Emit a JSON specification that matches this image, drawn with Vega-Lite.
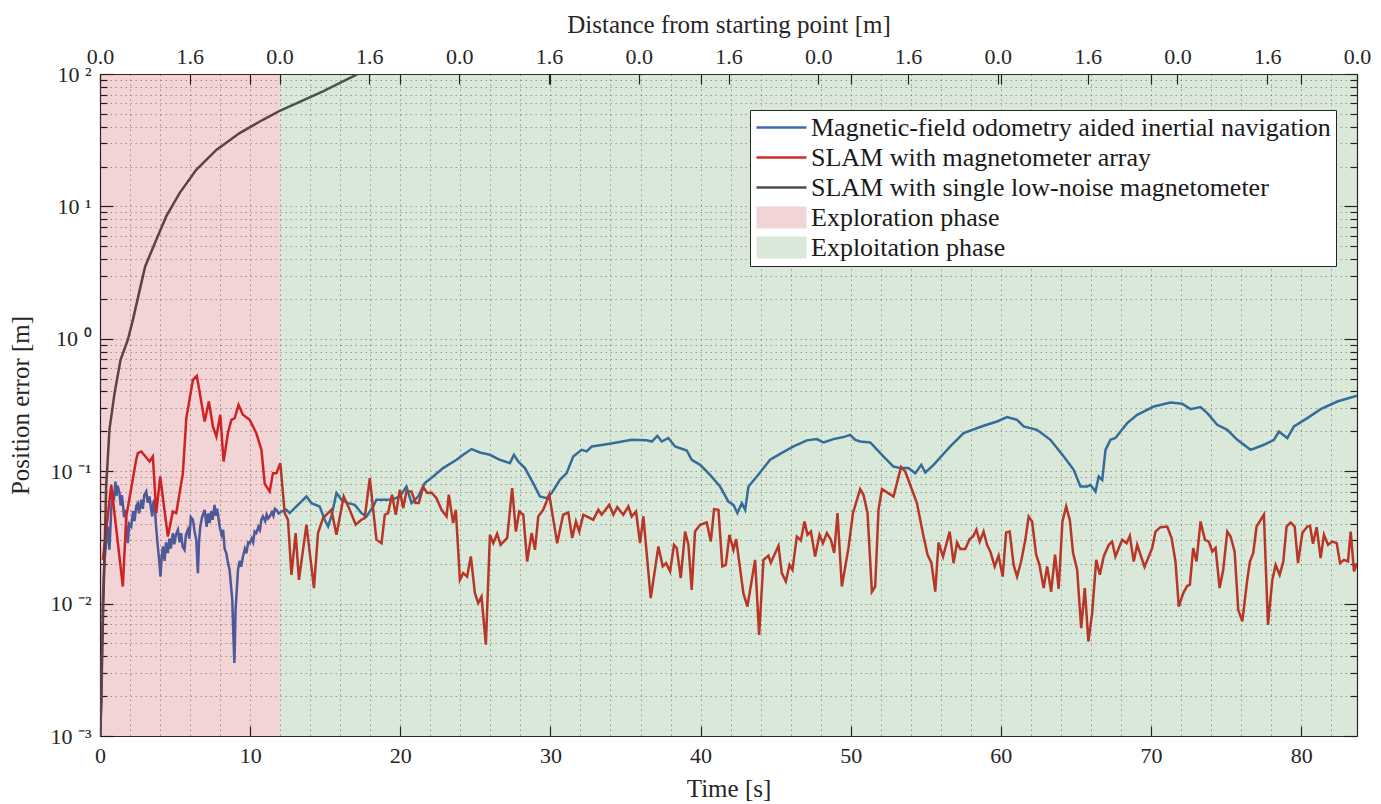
{
  "$schema": "https://vega.github.io/schema/vega-lite/v6.json",
  "width": 1257,
  "height": 662,
  "autosize": {"type": "none"},
  "padding": {"left": 100, "top": 74, "right": 24, "bottom": 68},
  "background": "white",
  "config": {
    "font": "Liberation Serif",
    "view": {"stroke": null},
    "axis": {
      "labelFont": "Liberation Serif",
      "titleFont": "Liberation Serif",
      "labelFontSize": 22,
      "titleFontSize": 25,
      "titleFontWeight": "normal",
      "labelColor": "#262626",
      "titleColor": "#262626",
      "domainColor": "#262626",
      "tickColor": "#1a1a1a",
      "domainWidth": 1.2,
      "tickWidth": 1.2,
      "labelFlush": false,
      "labelOverlap": false
    }
  },
  "datasets": {
    "lines": [
      {"s":"A","t":0,"v":0.001},{"s":"A","t":0.1,"v":0.00188},{"s":"A","t":0.19,"v":0.0107},{"s":"A","t":0.3,"v":0.0214},{"s":"A","t":0.52,"v":0.0382},{"s":"A","t":0.63,"v":0.0255},{"s":"A","t":0.75,"v":0.0511},{"s":"A","t":0.85,"v":0.07},{"s":"A","t":0.92,"v":0.06},{"s":"A","t":1.03,"v":0.0836},{"s":"A","t":1.1,"v":0.065},{"s":"A","t":1.17,"v":0.078},{"s":"A","t":1.3,"v":0.0684},{"s":"A","t":1.38,"v":0.055},{"s":"A","t":1.45,"v":0.066},{"s":"A","t":1.52,"v":0.0574},{"s":"A","t":1.6,"v":0.045},{"s":"A","t":1.7,"v":0.0511},{"s":"A","t":1.78,"v":0.035},{"s":"A","t":1.85,"v":0.0286},{"s":"A","t":1.95,"v":0.04},{"s":"A","t":2.08,"v":0.0382},{"s":"A","t":2.2,"v":0.05},{"s":"A","t":2.3,"v":0.042},{"s":"A","t":2.42,"v":0.055},{"s":"A","t":2.52,"v":0.0574},{"s":"A","t":2.6,"v":0.048},{"s":"A","t":2.75,"v":0.0608},{"s":"A","t":2.85,"v":0.052},{"s":"A","t":2.95,"v":0.066},{"s":"A","t":3.08,"v":0.0703},{"s":"A","t":3.18,"v":0.058},{"s":"A","t":3.3,"v":0.0644},{"s":"A","t":3.4,"v":0.052},{"s":"A","t":3.48,"v":0.0455},{"s":"A","t":3.55,"v":0.058},{"s":"A","t":3.63,"v":0.0608},{"s":"A","t":3.72,"v":0.04},{"s":"A","t":3.85,"v":0.027},{"s":"A","t":3.93,"v":0.022},{"s":"A","t":4.03,"v":0.016},{"s":"A","t":4.1,"v":0.022},{"s":"A","t":4.19,"v":0.027},{"s":"A","t":4.3,"v":0.021},{"s":"A","t":4.4,"v":0.029},{"s":"A","t":4.52,"v":0.0241},{"s":"A","t":4.62,"v":0.031},{"s":"A","t":4.72,"v":0.026},{"s":"A","t":4.85,"v":0.0341},{"s":"A","t":4.95,"v":0.028},{"s":"A","t":5.05,"v":0.033},{"s":"A","t":5.19,"v":0.0361},{"s":"A","t":5.3,"v":0.029},{"s":"A","t":5.4,"v":0.034},{"s":"A","t":5.5,"v":0.027},{"s":"A","t":5.63,"v":0.0255},{"s":"A","t":5.72,"v":0.033},{"s":"A","t":5.85,"v":0.0361},{"s":"A","t":5.95,"v":0.031},{"s":"A","t":6.05,"v":0.045},{"s":"A","t":6.19,"v":0.043},{"s":"A","t":6.3,"v":0.035},{"s":"A","t":6.41,"v":0.0304},{"s":"A","t":6.52,"v":0.017},{"s":"A","t":6.6,"v":0.03},{"s":"A","t":6.68,"v":0.0382},{"s":"A","t":6.8,"v":0.045},{"s":"A","t":6.97,"v":0.0511},{"s":"A","t":7.1,"v":0.038},{"s":"A","t":7.2,"v":0.048},{"s":"A","t":7.3,"v":0.0406},{"s":"A","t":7.4,"v":0.05},{"s":"A","t":7.5,"v":0.043},{"s":"A","t":7.63,"v":0.0557},{"s":"A","t":7.72,"v":0.046},{"s":"A","t":7.8,"v":0.052},{"s":"A","t":7.97,"v":0.0382},{"s":"A","t":8.1,"v":0.033},{"s":"A","t":8.2,"v":0.036},{"s":"A","t":8.3,"v":0.026},{"s":"A","t":8.41,"v":0.0241},{"s":"A","t":8.5,"v":0.021},{"s":"A","t":8.63,"v":0.018},{"s":"A","t":8.81,"v":0.0107},{"s":"A","t":8.9,"v":0.00503},{"s":"A","t":8.95,"v":0.00356},{"s":"A","t":9.03,"v":0.00898},{"s":"A","t":9.19,"v":0.018},{"s":"A","t":9.3,"v":0.021},{"s":"A","t":9.4,"v":0.019},{"s":"A","t":9.52,"v":0.0227},{"s":"A","t":9.65,"v":0.026},{"s":"A","t":9.75,"v":0.024},{"s":"A","t":9.87,"v":0.029},{"s":"A","t":9.97,"v":0.0286},{"s":"A","t":10.1,"v":0.031},{"s":"A","t":10.2,"v":0.029},{"s":"A","t":10.3,"v":0.035},{"s":"A","t":10.41,"v":0.0341},{"s":"A","t":10.55,"v":0.038},{"s":"A","t":10.65,"v":0.036},{"s":"A","t":10.75,"v":0.043},{"s":"A","t":10.85,"v":0.0455},{"s":"A","t":11,"v":0.042},{"s":"A","t":11.1,"v":0.047},{"s":"A","t":11.2,"v":0.044},{"s":"A","t":11.3,"v":0.0455},{"s":"A","t":11.45,"v":0.049},{"s":"A","t":11.55,"v":0.046},{"s":"A","t":11.65,"v":0.052},{"s":"A","t":11.75,"v":0.0511},{"s":"A","t":11.9,"v":0.048},{"s":"A","t":12.08,"v":0.0496},{"s":"A","t":12.41,"v":0.0511},
      {"s":"A","t":12.63,"v":0.0483},{"s":"A","t":12.85,"v":0.0511},{"s":"A","t":13.75,"v":0.0644},{"s":"A","t":14.08,"v":0.0574},{"s":"A","t":14.63,"v":0.0541},{"s":"A","t":14.97,"v":0.043},{"s":"A","t":15.19,"v":0.0382},{"s":"A","t":15.41,"v":0.0455},{"s":"A","t":15.75,"v":0.0684},{"s":"A","t":16.08,"v":0.0608},{"s":"A","t":16.52,"v":0.0574},{"s":"A","t":16.97,"v":0.0557},{"s":"A","t":17.41,"v":0.0483},{"s":"A","t":17.75,"v":0.0455},{"s":"A","t":18.19,"v":0.0541},{"s":"A","t":18.41,"v":0.0608},{"s":"A","t":18.85,"v":0.0608},{"s":"A","t":19.41,"v":0.0608},{"s":"A","t":19.97,"v":0.0644},{"s":"A","t":20.41,"v":0.0766},{"s":"A","t":20.75,"v":0.0574},{"s":"A","t":21.19,"v":0.0644},{"s":"A","t":21.63,"v":0.0813},{"s":"A","t":22.19,"v":0.0912},{"s":"A","t":22.85,"v":0.1055},{"s":"A","t":23.75,"v":0.122},{"s":"A","t":24.19,"v":0.133},{"s":"A","t":24.75,"v":0.147},{"s":"A","t":25.3,"v":0.1384},{"s":"A","t":25.97,"v":0.133},{"s":"A","t":26.63,"v":0.122},{"s":"A","t":27.3,"v":0.115},{"s":"A","t":27.57,"v":0.133},{"s":"A","t":27.85,"v":0.1184},{"s":"A","t":28.3,"v":0.1055},{"s":"A","t":28.85,"v":0.0813},{"s":"A","t":29.3,"v":0.0644},{"s":"A","t":29.75,"v":0.0626},{"s":"A","t":30.08,"v":0.0684},{"s":"A","t":30.63,"v":0.0861},{"s":"A","t":31.08,"v":0.0967},{"s":"A","t":31.52,"v":0.129},{"s":"A","t":32.08,"v":0.145},{"s":"A","t":32.41,"v":0.141},{"s":"A","t":32.75,"v":0.1537},{"s":"A","t":33.52,"v":0.1583},{"s":"A","t":34.41,"v":0.1647},{"s":"A","t":35.41,"v":0.1726},{"s":"A","t":36.41,"v":0.171},{"s":"A","t":36.75,"v":0.1676},{"s":"A","t":37.12,"v":0.185},{"s":"A","t":37.41,"v":0.1676},{"s":"A","t":37.85,"v":0.178},{"s":"A","t":38.3,"v":0.1537},{"s":"A","t":39.08,"v":0.1433},{"s":"A","t":39.41,"v":0.122},{"s":"A","t":39.97,"v":0.1117},{"s":"A","t":40.63,"v":0.0939},{"s":"A","t":41.3,"v":0.0766},{"s":"A","t":41.85,"v":0.059},{"s":"A","t":42.19,"v":0.0557},{"s":"A","t":42.45,"v":0.0483},{"s":"A","t":42.75,"v":0.0574},{"s":"A","t":42.97,"v":0.0511},{"s":"A","t":43.19,"v":0.0766},{"s":"A","t":43.75,"v":0.0912},{"s":"A","t":44.63,"v":0.122},{"s":"A","t":45.3,"v":0.1353},{"s":"A","t":46.19,"v":0.1537},{"s":"A","t":47.08,"v":0.171},{"s":"A","t":47.75,"v":0.1748},{"s":"A","t":48.19,"v":0.1647},{"s":"A","t":48.85,"v":0.1748},{"s":"A","t":49.52,"v":0.181},{"s":"A","t":49.97,"v":0.188},{"s":"A","t":50.3,"v":0.1726},{"s":"A","t":50.63,"v":0.1676},{"s":"A","t":51.3,"v":0.1647},{"s":"A","t":52.19,"v":0.129},{"s":"A","t":52.85,"v":0.1085},{"s":"A","t":53.3,"v":0.1055},{"s":"A","t":53.85,"v":0.1055},{"s":"A","t":54.3,"v":0.0967},{"s":"A","t":54.7,"v":0.1117},{"s":"A","t":54.97,"v":0.0977},{"s":"A","t":55.52,"v":0.1117},{"s":"A","t":56.63,"v":0.1537},{"s":"A","t":57.52,"v":0.194},{"s":"A","t":58.85,"v":0.2203},{"s":"A","t":59.75,"v":0.2373},{"s":"A","t":60.41,"v":0.2563},{"s":"A","t":61.08,"v":0.2444},{"s":"A","t":61.52,"v":0.2176},{"s":"A","t":62.41,"v":0.2055},{"s":"A","t":63.3,"v":0.1726},{"s":"A","t":64.19,"v":0.129},{"s":"A","t":64.85,"v":0.1025},{"s":"A","t":65.3,"v":0.0766},{"s":"A","t":65.75,"v":0.0766},{"s":"A","t":65.97,"v":0.0789},{"s":"A","t":66.3,"v":0.0703},{"s":"A","t":66.52,"v":0.0912},{"s":"A","t":66.75,"v":0.0861},{"s":"A","t":66.97,"v":0.145},{"s":"A","t":67.3,"v":0.1726},{"s":"A","t":67.63,"v":0.178},{"s":"A","t":68.41,"v":0.2308},{"s":"A","t":69.08,"v":0.2667},{"s":"A","t":70.19,"v":0.308},{"s":"A","t":71.3,"v":0.33},{"s":"A","t":72.08,"v":0.323},{"s":"A","t":72.63,"v":0.2944},{"s":"A","t":73.3,"v":0.305},{"s":"A","t":73.75,"v":0.2747},{"s":"A","t":74.41,"v":0.224},{"s":"A","t":75.08,"v":0.2055},{"s":"A","t":75.75,"v":0.1726},{"s":"A","t":76.63,"v":0.145},{"s":"A","t":77.52,"v":0.1583},{"s":"A","t":78.19,"v":0.1726},{"s":"A","t":78.52,"v":0.1995},{"s":"A","t":79.08,"v":0.178},{"s":"A","t":79.52,"v":0.2176},{"s":"A","t":80.41,"v":0.2518},{"s":"A","t":81.3,"v":0.2944},{"s":"A","t":82.41,"v":0.336},{"s":"A","t":83.72,"v":0.371},
      {"s":"B","t":0.19,"v":0.0214},{"s":"B","t":0.75,"v":0.0789},{"s":"B","t":1.52,"v":0.01346},{"s":"B","t":1.75,"v":0.0455},{"s":"B","t":2.41,"v":0.122},{"s":"B","t":2.52,"v":0.137},{"s":"B","t":2.75,"v":0.141},{"s":"B","t":3.3,"v":0.1184},{"s":"B","t":3.52,"v":0.129},{"s":"B","t":3.75,"v":0.0483},{"s":"B","t":4.01,"v":0.0912},{"s":"B","t":4.52,"v":0.0321},{"s":"B","t":4.85,"v":0.0496},{"s":"B","t":5.08,"v":0.0483},{"s":"B","t":5.52,"v":0.0967},{"s":"B","t":5.75,"v":0.2518},{"s":"B","t":6.19,"v":0.49},{"s":"B","t":6.45,"v":0.5253},{"s":"B","t":6.97,"v":0.2373},{"s":"B","t":7.25,"v":0.336},{"s":"B","t":7.52,"v":0.2176},{"s":"B","t":7.75,"v":0.1828},{"s":"B","t":8.01,"v":0.2667},{"s":"B","t":8.23,"v":0.1184},{"s":"B","t":8.52,"v":0.194},{"s":"B","t":8.75,"v":0.2444},{"s":"B","t":8.97,"v":0.2518},{"s":"B","t":9.23,"v":0.3172},{"s":"B","t":9.52,"v":0.2667},{"s":"B","t":9.97,"v":0.2444},{"s":"B","t":10.41,"v":0.194},{"s":"B","t":10.75,"v":0.145},{"s":"B","t":10.97,"v":0.0803},{"s":"B","t":11.3,"v":0.0703},{"s":"B","t":11.52,"v":0.0967},{"s":"B","t":11.75,"v":0.0967},{"s":"B","t":12.01,"v":0.115},{"s":"B","t":12.3,"v":0.0483},{"s":"B","t":12.52,"v":0.043},{"s":"B","t":12.75,"v":0.0165},{"s":"B","t":13.03,"v":0.0341},{"s":"B","t":13.25,"v":0.0151},{"s":"B","t":13.75,"v":0.0394},{"s":"B","t":14.25,"v":0.0131},{"s":"B","t":14.52,"v":0.0341},{"s":"B","t":14.85,"v":0.0442},{"s":"B","t":15.41,"v":0.0511},{"s":"B","t":15.75,"v":0.0331},{"s":"B","t":16.23,"v":0.0644},{"s":"B","t":16.63,"v":0.0511},{"s":"B","t":17.03,"v":0.0394},{"s":"B","t":17.41,"v":0.043},{"s":"B","t":17.63,"v":0.0442},{"s":"B","t":17.97,"v":0.0887},{"s":"B","t":18.41,"v":0.0304},{"s":"B","t":18.75,"v":0.0286},{"s":"B","t":18.97,"v":0.0469},{"s":"B","t":19.19,"v":0.0483},{"s":"B","t":19.45,"v":0.0664},{"s":"B","t":19.7,"v":0.0469},{"s":"B","t":19.97,"v":0.0724},{"s":"B","t":20.19,"v":0.0526},{"s":"B","t":20.41,"v":0.0703},{"s":"B","t":20.75,"v":0.0703},{"s":"B","t":21.01,"v":0.0574},{"s":"B","t":21.23,"v":0.0574},{"s":"B","t":21.52,"v":0.0759},{"s":"B","t":21.79,"v":0.0684},{"s":"B","t":22.08,"v":0.069},{"s":"B","t":22.41,"v":0.0626},{"s":"B","t":22.75,"v":0.0511},{"s":"B","t":23.08,"v":0.0455},{"s":"B","t":23.23,"v":0.0664},{"s":"B","t":23.52,"v":0.0406},{"s":"B","t":23.7,"v":0.0511},{"s":"B","t":23.97,"v":0.0151},{"s":"B","t":24.19,"v":0.017},{"s":"B","t":24.45,"v":0.016},{"s":"B","t":24.7,"v":0.0227},{"s":"B","t":24.97,"v":0.012},{"s":"B","t":25.19,"v":0.0101},{"s":"B","t":25.41,"v":0.0113},{"s":"B","t":25.7,"v":0.00489},{"s":"B","t":25.97,"v":0.0331},{"s":"B","t":26.19,"v":0.0286},{"s":"B","t":26.45,"v":0.0337},{"s":"B","t":26.68,"v":0.0278},{"s":"B","t":27.12,"v":0.0313},{"s":"B","t":27.45,"v":0.0745},{"s":"B","t":27.7,"v":0.035},{"s":"B","t":27.92,"v":0.0496},{"s":"B","t":28.19,"v":0.0469},{"s":"B","t":28.45,"v":0.0208},{"s":"B","t":28.75,"v":0.0341},{"s":"B","t":28.97,"v":0.0255},{"s":"B","t":29.19,"v":0.0455},{"s":"B","t":29.52,"v":0.0511},{"s":"B","t":29.92,"v":0.0664},{"s":"B","t":30.45,"v":0.0286},{"s":"B","t":30.75,"v":0.0417},{"s":"B","t":30.85,"v":0.0469},{"s":"B","t":31.19,"v":0.0488},{"s":"B","t":31.45,"v":0.0313},{"s":"B","t":31.7,"v":0.0417},{"s":"B","t":31.92,"v":0.035},{"s":"B","t":32.19,"v":0.0469},{"s":"B","t":32.85,"v":0.043},{"s":"B","t":33.19,"v":0.0511},{"s":"B","t":33.41,"v":0.0469},{"s":"B","t":33.92,"v":0.0557},{"s":"B","t":34.19,"v":0.0469},{"s":"B","t":34.45,"v":0.0536},{"s":"B","t":34.85,"v":0.0469},{"s":"B","t":35.19,"v":0.0541},{"s":"B","t":35.41,"v":0.0455},{"s":"B","t":35.7,"v":0.0496},{"s":"B","t":35.97,"v":0.0286},{"s":"B","t":36.19,"v":0.0455},{"s":"B","t":36.68,"v":0.011},{"s":"B","t":37.19,"v":0.027},{"s":"B","t":37.48,"v":0.0191},{"s":"B","t":37.7,"v":0.0202},{"s":"B","t":37.97,"v":0.0175},{"s":"B","t":38.23,"v":0.0278},{"s":"B","t":38.41,"v":0.0263},{"s":"B","t":38.68,"v":0.0156},{"s":"B","t":38.97,"v":0.035},{"s":"B","t":39.19,"v":0.0278},{"s":"B","t":39.41,"v":0.0127},{"s":"B","t":39.63,"v":0.035},{"s":"B","t":39.97,"v":0.0394},{"s":"B","t":40.41,"v":0.041},{"s":"B","t":40.68,"v":0.0294},{"s":"B","t":40.9,"v":0.0517},{"s":"B","t":41.19,"v":0.0511},{"s":"B","t":41.45,"v":0.0191},{"s":"B","t":41.68,"v":0.0196},{"s":"B","t":41.92,"v":0.0331},{"s":"B","t":42.19,"v":0.0255},{"s":"B","t":42.37,"v":0.0307},{"s":"B","t":42.85,"v":0.012},{"s":"B","t":43.12,"v":0.0095},{"s":"B","t":43.63,"v":0.0214},{"s":"B","t":43.9,"v":0.00581},{"s":"B","t":44.19,"v":0.0214},{"s":"B","t":44.52,"v":0.023},{"s":"B","t":44.68,"v":0.0204},{"s":"B","t":45.19,"v":0.0273},{"s":"B","t":45.41,"v":0.017},{"s":"B","t":45.68,"v":0.0147},{"s":"B","t":45.92,"v":0.0196},{"s":"B","t":46.12,"v":0.018},{"s":"B","t":46.41,"v":0.0321},{"s":"B","t":46.68,"v":0.03},{"s":"B","t":46.92,"v":0.0417},{"s":"B","t":47.12,"v":0.0331},{"s":"B","t":47.35,"v":0.035},{"s":"B","t":47.63,"v":0.0227},{"s":"B","t":47.92,"v":0.0331},{"s":"B","t":48.15,"v":0.0286},{"s":"B","t":48.41,"v":0.0341},{"s":"B","t":48.68,"v":0.0303},{"s":"B","t":48.9,"v":0.0241},{"s":"B","t":49.12,"v":0.0483},{"s":"B","t":49.41,"v":0.01346},{"s":"B","t":49.85,"v":0.0263},{"s":"B","t":50.15,"v":0.0483},{"s":"B","t":50.63,"v":0.0732},{"s":"B","t":50.85,"v":0.0664},{"s":"B","t":51.12,"v":0.0483},{"s":"B","t":51.41,"v":0.0123},{"s":"B","t":51.63,"v":0.01346},{"s":"B","t":51.85,"v":0.0511},{"s":"B","t":52.08,"v":0.0732},{"s":"B","t":52.85,"v":0.0644},{"s":"B","t":53.35,"v":0.1074},{"s":"B","t":53.63,"v":0.0995},{"s":"B","t":54.41,"v":0.0574},{"s":"B","t":54.85,"v":0.0321},{"s":"B","t":55.12,"v":0.0234},{"s":"B","t":55.37,"v":0.0204},{"s":"B","t":55.63,"v":0.0123},{"s":"B","t":55.85,"v":0.0289},{"s":"B","t":56.15,"v":0.0227},{"s":"B","t":56.59,"v":0.035},{"s":"B","t":56.85,"v":0.0202},{"s":"B","t":57.08,"v":0.0289},{"s":"B","t":57.3,"v":0.0258},{"s":"B","t":57.63,"v":0.0258},{"s":"B","t":57.92,"v":0.0307},{"s":"B","t":58.15,"v":0.0321},{"s":"B","t":58.37,"v":0.0361},{"s":"B","t":58.59,"v":0.0294},{"s":"B","t":58.85,"v":0.035},{"s":"B","t":59.08,"v":0.0278},{"s":"B","t":59.3,"v":0.0247},{"s":"B","t":59.59,"v":0.0191},{"s":"B","t":59.85,"v":0.023},{"s":"B","t":60.12,"v":0.016},{"s":"B","t":60.35,"v":0.0344},{"s":"B","t":60.59,"v":0.035},{"s":"B","t":60.85,"v":0.0196},{"s":"B","t":61.08,"v":0.016},{"s":"B","t":61.35,"v":0.0208},{"s":"B","t":61.63,"v":0.0303},{"s":"B","t":61.85,"v":0.0455},{"s":"B","t":62.08,"v":0.0417},{"s":"B","t":62.35,"v":0.0234},{"s":"B","t":62.57,"v":0.0196},{"s":"B","t":62.85,"v":0.0131},{"s":"B","t":63.08,"v":0.0191},{"s":"B","t":63.35,"v":0.0123},{"s":"B","t":63.61,"v":0.0234},{"s":"B","t":63.85,"v":0.0129},{"s":"B","t":64.1,"v":0.0417},{"s":"B","t":64.35,"v":0.0541},{"s":"B","t":64.59,"v":0.043},{"s":"B","t":64.81,"v":0.0241},{"s":"B","t":65.08,"v":0.018},{"s":"B","t":65.35,"v":0.00653},{"s":"B","t":65.59,"v":0.0131},{"s":"B","t":65.83,"v":0.00517},{"s":"B","t":66.08,"v":0.00848},{"s":"B","t":66.35,"v":0.0214},{"s":"B","t":66.59,"v":0.0165},{"s":"B","t":66.85,"v":0.0227},{"s":"B","t":67.19,"v":0.0278},{"s":"B","t":67.41,"v":0.0294},{"s":"B","t":67.63,"v":0.0227},{"s":"B","t":68.08,"v":0.0304},{"s":"B","t":68.37,"v":0.0286},{"s":"B","t":68.59,"v":0.0325},{"s":"B","t":68.85,"v":0.0208},{"s":"B","t":69.08,"v":0.0278},{"s":"B","t":69.57,"v":0.0189},{"s":"B","t":70.08,"v":0.0263},{"s":"B","t":70.3,"v":0.035},{"s":"B","t":70.63,"v":0.0378},{"s":"B","t":71.08,"v":0.0382},{"s":"B","t":71.37,"v":0.0313},{"s":"B","t":71.63,"v":0.0208},{"s":"B","t":71.85,"v":0.0095},{"s":"B","t":72.15,"v":0.012},{"s":"B","t":72.41,"v":0.0136},{"s":"B","t":72.59,"v":0.0139},{"s":"B","t":72.81,"v":0.0263},{"s":"B","t":73.03,"v":0.0208},{"s":"B","t":73.3,"v":0.0417},{"s":"B","t":73.59,"v":0.0303},{"s":"B","t":73.85,"v":0.0294},{"s":"B","t":74.08,"v":0.0247},{"s":"B","t":74.3,"v":0.0263},{"s":"B","t":74.57,"v":0.0131},{"s":"B","t":74.81,"v":0.018},{"s":"B","t":75.08,"v":0.035},{"s":"B","t":75.3,"v":0.0321},{"s":"B","t":75.57,"v":0.0247},{"s":"B","t":75.81,"v":0.00898},{"s":"B","t":76.08,"v":0.00733},{"s":"B","t":76.41,"v":0.0151},{"s":"B","t":76.59,"v":0.0208},{"s":"B","t":76.81,"v":0.0241},{"s":"B","t":77.03,"v":0.0382},{"s":"B","t":77.52,"v":0.0469},{"s":"B","t":77.79,"v":0.00692},{"s":"B","t":78.08,"v":0.0151},{"s":"B","t":78.3,"v":0.0196},{"s":"B","t":78.57,"v":0.0165},{"s":"B","t":78.81,"v":0.0208},{"s":"B","t":79.03,"v":0.0382},{"s":"B","t":79.3,"v":0.041},{"s":"B","t":79.57,"v":0.0382},{"s":"B","t":79.79,"v":0.0202},{"s":"B","t":80.08,"v":0.0341},{"s":"B","t":80.41,"v":0.0382},{"s":"B","t":80.59,"v":0.0387},{"s":"B","t":80.79,"v":0.0283},{"s":"B","t":81.03,"v":0.0378},{"s":"B","t":81.3,"v":0.0221},{"s":"B","t":81.52,"v":0.0331},{"s":"B","t":81.79,"v":0.0278},{"s":"B","t":82.08,"v":0.0294},{"s":"B","t":82.37,"v":0.0286},{"s":"B","t":82.59,"v":0.0202},{"s":"B","t":82.85,"v":0.0214},{"s":"B","t":83.12,"v":0.0208},{"s":"B","t":83.3,"v":0.035},{"s":"B","t":83.52,"v":0.0175},{"s":"B","t":83.72,"v":0.0202},
      {"s":"C","t":0.03,"v":0.001},{"s":"C","t":0.13,"v":0.00376},{"s":"C","t":0.23,"v":0.0107},{"s":"C","t":0.41,"v":0.0766},{"s":"C","t":0.63,"v":0.206},{"s":"C","t":0.97,"v":0.389},{"s":"C","t":1.37,"v":0.694},{"s":"C","t":1.85,"v":0.98},{"s":"C","t":2.19,"v":1.39},{"s":"C","t":2.85,"v":2.95},{"s":"C","t":3.01,"v":3.52},{"s":"C","t":3.75,"v":5.6},{"s":"C","t":4.41,"v":8.4},{"s":"C","t":5.3,"v":12.6},{"s":"C","t":6.41,"v":18.9},{"s":"C","t":7.75,"v":26.7},{"s":"C","t":9.3,"v":35.8},{"s":"C","t":10.85,"v":45.1},{"s":"C","t":12.01,"v":53},{"s":"C","t":14.85,"v":73.8},{"s":"C","t":17.19,"v":100.3}
    ],
    "phases": [
      {"s":"D","t":0,"t2":11.96},
      {"s":"E","t":11.96,"t2":83.72}
    ]
  },
  "layer": [
    {
      "data": {"name": "lines"},
      "mark": {"type": "line", "strokeWidth": 2.5, "clip": true},
      "encoding": {
        "x": {
          "field": "t", "type": "quantitative",
          "scale": {"domain": [0, 83.72], "nice": false, "zero": false},
          "axis": {
            "orient": "bottom",
            "title": "Time [s]",
            "values": [0,2,4,6,8,10,12,14,16,18,20,22,24,26,28,30,32,34,36,38,40,42,44,46,48,50,52,54,56,58,60,62,64,66,68,70,72,74,76,78,80,82],
            "labelExpr": "datum.value % 10 === 0 ? format(datum.value, 'd') : ''",
            "tickSize": -10,
            "tickOpacity": {"condition": {"test": "datum.value % 10 === 0", "value": 1}, "value": 0},
            "labelPadding": 19,
            "titlePadding": 10,
            "grid": true,
            "gridDash": [1.5, 3.5],
            "gridColor": "#6e6e6e",
            "gridOpacity": 0.6,
            "gridWidth": 1
          }
        },
        "y": {
          "field": "v", "type": "quantitative",
          "scale": {"type": "log", "domain": [0.001, 100], "nice": false},
          "axis": {
            "orient": "left",
            "title": "Position error [m]",
            "values": [0.001,0.002,0.003,0.004,0.005,0.006,0.007,0.008,0.009,0.01,0.02,0.03,0.04,0.05,0.06,0.07,0.08,0.09,0.1,0.2,0.3,0.4,0.5,0.6,0.7,0.8,0.9,1,2,3,4,5,6,7,8,9,10,20,30,40,50,60,70,80,90,100],
            "labelExpr": "datum.value == 100 ? '10 ²' : datum.value == 10 ? '10 ¹' : datum.value == 1 ? '10 ⁰' : datum.value == 0.1 ? '10 ⁻¹' : datum.value == 0.01 ? '10 ⁻²' : datum.value == 0.001 ? '10 ⁻³' : ''",
            "tickSize": {"condition": {"test": "indexof([0.001,0.01,0.1,1,10,100], datum.value) >= 0", "value": -13}, "value": -7},
            "labelPadding": 22,
            "titlePadding": 16,
            "grid": true,
            "gridDash": [1.5, 3.5],
            "gridColor": "#6e6e6e",
            "gridOpacity": 0.6,
            "gridWidth": 1
          }
        },
        "color": {
          "field": "s", "type": "nominal",
          "scale": {"domain": ["A","B","C","D","E"], "range": ["#3a6cb4","#d62a2a","#4f4f4f","#b4000a","#1e781e"]},
          "legend": {
            "orient": "none",
            "legendX": 650,
            "legendY": 36,
            "title": null,
            "strokeColor": "#262626",
            "fillColor": "white",
            "padding": 5,
            "labelFont": "Liberation Serif",
            "labelFontSize": 26,
            "labelColor": "#1a1a1a",
            "labelLimit": 0,
            "labelOffset": 3,
            "symbolSize": 2500,
            "symbolStrokeWidth": 2.5,
            "symbolType": "stroke",
            "clipHeight": 25,
            "rowPadding": 3,
            "labelExpr": "datum.value == 'A' ? 'Magnetic-field odometry aided inertial navigation' : datum.value == 'B' ? 'SLAM with magnetometer array' : datum.value == 'C' ? 'SLAM with single low-noise magnetometer' : datum.value == 'D' ? 'Exploration phase' : 'Exploitation phase'",
            "encode": {
              "symbols": {
                "update": {
                  "shape": {"signal": "indexof(['D','E'], datum.value) >= 0 ? 'M-1,-0.44H1V0.44H-1Z' : 'stroke'"},
                  "fill": {"signal": "indexof(['D','E'], datum.value) >= 0 ? scale('color', datum.value) : 'transparent'"},
                  "stroke": {"signal": "indexof(['D','E'], datum.value) >= 0 ? 'transparent' : scale('color', datum.value)"},
                  "strokeOpacity": {"signal": "indexof(['D','E'], datum.value) >= 0 ? 0 : 1"},
                  "fillOpacity": {"signal": "indexof(['D','E'], datum.value) >= 0 ? 0.17 : 1"},
                  "strokeWidth": {"value": 2.5},
                  "size": {"value": 2500},
                  "opacity": {"value": 1}
                }
              }
            }
          }
        }
      }
    },
    {
      "data": {"name": "phases"},
      "mark": {"type": "rect", "opacity": 0.17, "strokeWidth": 0},
      "encoding": {
        "x": {
          "field": "t", "type": "quantitative",
          "axis": {
            "orient": "top",
            "title": "Distance from starting point [m]",
            "values": [0,5.98,10,11.96,17.94,20,23.92,29.9,30,35.88,40,41.86,47.84,50,53.82,59.8,60,65.78,70,71.76,77.74,80,83.72],
            "labelExpr": "indexof([0,11.96,23.92,35.88,47.84,59.8,71.76,83.72], datum.value) >= 0 ? '0.0' : indexof([5.98,17.94,29.9,41.86,53.82,65.78,77.74], datum.value) >= 0 ? '1.6' : ''",
            "tickSize": -10,
            "labelPadding": 16,
            "titlePadding": 8,
            "grid": false
          }
        },
        "x2": {"field": "t2"},
        "y": {
          "datum": 0.001, "type": "quantitative",
          "axis": {
            "orient": "right",
            "title": null,
            "values": [0.001,0.002,0.003,0.004,0.005,0.006,0.007,0.008,0.009,0.01,0.02,0.03,0.04,0.05,0.06,0.07,0.08,0.09,0.1,0.2,0.3,0.4,0.5,0.6,0.7,0.8,0.9,1,2,3,4,5,6,7,8,9,10,20,30,40,50,60,70,80,90,100],
            "labels": false,
            "tickSize": {"condition": {"test": "indexof([0.001,0.01,0.1,1,10,100], datum.value) >= 0", "value": -13}, "value": -7},
            "grid": false
          }
        },
        "y2": {"datum": 100},
        "color": {"field": "s", "type": "nominal"}
      }
    }
  ],
  "resolve": {"axis": {"x": "independent", "y": "independent"}}
}
